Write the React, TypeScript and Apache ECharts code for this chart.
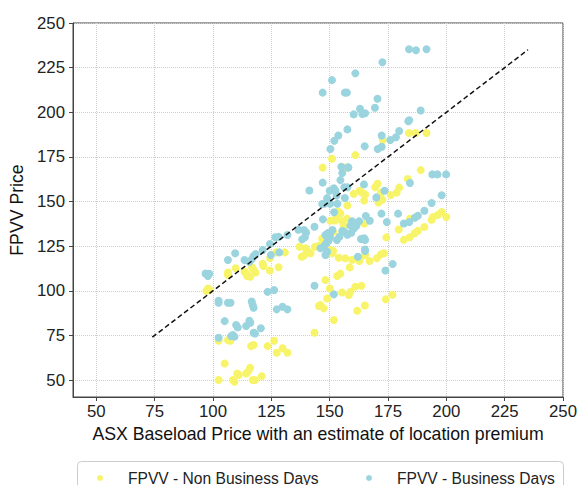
import React, { useEffect, useRef } from "react";
import * as echarts from "echarts";

const xTicks = [50, 75, 100, 125, 150, 175, 200, 225, 250];
const yTicks = [50, 75, 100, 125, 150, 175, 200, 225, 250];
const parityLine = [[74, 74], [235, 235]];

const nonBusinessDays = [
  [172.8, 184.5], [184, 188.4], [186.8, 188.4], [191.5, 188.4], [151, 174], [161, 176], [147, 169], [156, 169], [157, 169], [189, 167.6],
  [183.5, 162.6], [170.5, 160], [169.5, 158], [172, 155], [179.8, 157.8], [178.7, 155], [176.2, 153.6], [162.8, 156], [163.8, 155], [165.2, 154],
  [164.8, 150.6], [160.3, 154.3], [172.6, 151], [170.9, 149.5], [157.6, 147.8], [153.6, 144.4], [154.6, 143.3], [150.3, 139.2], [152.2, 139.4], [155.3, 138.9],
  [157.4, 140.4], [164.8, 137.6], [151.5, 133], [147, 129.2], [174.3, 129.9], [179.6, 134.3], [181.8, 128.5], [184.3, 130], [186.5, 132.2], [187.8, 133.6],
  [190.6, 135.7], [193.7, 139.8], [194.3, 141.3], [196.3, 142.4], [198, 144.1], [200, 141.3], [184.4, 140.3], [152.9, 141.5], [156, 136.5],
  [150.1, 122.8], [151.5, 122.3], [148.9, 120.4], [151.1, 121], [165.2, 120], [163.1, 118.2], [162.7, 116.7], [159.6, 117.3], [156.7, 118.2], [153.9, 118.5],
  [167.1, 116.7], [170.2, 118.2], [171.9, 120.4], [173.3, 121], [158.6, 113.1], [154.6, 109.6], [153.2, 108.3],
  [146.8, 129.3], [147.1, 125.6], [137.1, 124.7], [139.7, 123.8], [140.5, 122.3], [139, 119.7], [138, 119.1], [141.8, 121], [143.7, 124.7], [145.4, 125.2],
  [130.8, 121.5], [127, 121.5], [124.4, 118.3], [128.1, 113.2], [124.4, 111.4], [121.3, 115.1], [117.4, 111.7], [116.7, 113.2], [114.2, 109.8], [113.5, 110.7],
  [109.7, 112.6], [106.4, 110.2], [118.2, 110.2], [106.4, 108.8], [114.6, 108.3], [116, 107.9], [121.6, 113.9], [98.6, 100.4], [97.2, 100], [97.9, 101.3],
  [150.1, 101.3], [148.9, 95.7], [155.3, 99], [158.2, 97.6], [158.9, 99.4], [161, 102.3], [163.6, 102.8], [174, 95.2], [176.9, 97.8], [161.8, 88.8],
  [165.1, 91.8], [151.8, 83.6], [143.5, 76.5], [131.9, 65.3], [146, 92], [147.5, 90.2], [145.4, 91.5], [148.2, 106],
  [102.4, 72], [106.4, 72.4], [107.4, 72], [105, 59.3], [116.3, 69], [117.4, 69.6], [123.4, 69], [126.2, 72], [127.3, 65.3], [129.8, 67.8],
  [102.4, 50], [108.5, 50], [109.2, 49], [110.4, 53.7], [111, 52.8], [114.2, 53.7], [115.2, 55], [115.9, 56.9], [117, 50], [118, 50], [120.9, 52.2],
];

const businessDays = [
  [184, 235.3], [187, 234.7], [191.5, 235.3], [172.6, 228], [161, 221.8], [151, 218], [147, 211], [156.5, 211], [157.4, 211], [170.5, 207.6],
  [169.4, 202.5], [163, 202], [160.3, 198.8], [164, 199], [165.2, 199.4], [189, 201], [183.7, 195], [184.1, 195.5], [157.6, 190.4], [153.7, 187],
  [152, 184], [150.3, 179.4], [172.3, 187], [176, 184.5], [178.4, 186], [179.8, 189.5], [165, 181], [170.6, 179.4], [172.3, 180.7], [158, 169],
  [194, 165.2], [196.2, 165.2], [199.9, 165.2], [155.4, 166], [155, 169.5], [157.9, 169.2], [147, 160.6], [154.6, 162], [184.4, 160.4], [141.3, 156.2],
  [150, 156], [151.8, 157.4], [152.5, 156], [156.3, 158], [157.6, 158], [164.7, 159.6], [173.5, 156], [156.5, 152], [170, 152.3], [152.9, 153.4],
  [148.9, 151.9], [147.7, 148.8], [150.2, 148.8], [153.3, 148.8], [146.8, 148.6], [193.7, 149.2], [198, 153.5], [151.9, 144], [172.2, 143.2], [179.3, 143.2],
  [165.5, 141.9], [167.2, 139.2], [147.1, 140], [159.6, 138.9], [162.6, 138.9], [161.4, 136.3], [160.3, 134.8], [159.3, 132.5], [157.6, 131.4], [156.3, 133.1],
  [155.4, 133.5], [154.2, 130.3], [153.1, 128.4], [143.5, 135.9], [139, 134], [139.9, 132.7], [138.2, 128.8], [136.6, 134.2], [139.4, 130], [131.9, 131.2],
  [150.1, 130.8], [149.5, 128], [181.8, 137.7], [184.1, 138.5], [186.5, 140.9], [187.8, 142], [190.6, 144.8], [174.5, 138.5], [165.1, 123.1], [163.4, 129],
  [164.8, 129.4], [165.2, 128.4], [165.2, 122.3], [162.1, 119.1], [177, 115], [173.9, 111.4], [158.9, 136.5], [151.2, 134], [149.2, 132.3], [148.9, 127.5],
  [150.1, 129.7], [148.2, 131.2], [148.2, 126], [147.5, 124.7], [146.1, 123.8], [148.9, 121.9], [148.2, 120],
  [128.1, 130.2], [126.7, 130], [124.4, 126.2], [128.4, 121.5], [124.8, 120], [121.3, 122.8], [113.5, 117.2], [115.6, 116.3], [116.6, 117.6], [117.4, 119.5],
  [118.3, 120.6], [109.5, 121], [106.4, 117.2], [96.8, 109.7], [97.8, 108.3], [98.4, 109.5],
  [102.4, 94.4], [102.4, 93.3], [106.4, 93.3], [107.5, 93.3], [105, 83], [109.9, 80.8], [110.6, 79.5], [114.2, 80.3], [115.6, 83.2], [116, 82.1],
  [108.5, 75.2], [109.2, 74.3], [107.8, 74.6], [116.6, 94], [117, 92], [117.4, 90.5], [117.4, 76.5], [118, 76.1], [120.5, 79], [102.4, 73.7],
  [123.4, 99.4], [126.2, 100.4], [127.3, 89.6], [129.8, 91.1], [131.9, 89.6], [143.5, 102.8], [151.8, 98],
];

const FONT = "'Liberation Sans', Arial, sans-serif";
const YELLOW = "#f8f46a";
const BLUE = "#9ad4de";

export default function App() {
  const ref = useRef<HTMLDivElement>(null);
  useEffect(() => {
    if (!ref.current) return;
    const chart = echarts.init(ref.current, null, { renderer: "svg" });
    const axisCommon = {
      axisLine: { show: true, lineStyle: { color: "#444", width: 1 } },
      axisTick: { show: true, length: 4, lineStyle: { color: "#444" } },
      splitLine: { show: true, lineStyle: { color: "#cfcfcf", type: [1, 1], width: 1 } },
      nameLocation: "middle",
      nameTextStyle: { fontFamily: FONT, fontSize: 17.7, color: "#111" },
    };
    const legendCommon = {
      top: 470,
      padding: 0,
      itemWidth: 6,
      itemHeight: 6,
      textStyle: { fontFamily: FONT, fontSize: 15.6, color: "#222", padding: [0, 0, 0, 20] },
    };
    chart.setOption({
      animation: false,
      backgroundColor: "#ffffff",
      grid: { left: 73, right: 13, top: 23, bottom: 88, show: true, borderColor: "#444", borderWidth: 1 },
      xAxis: {
        ...axisCommon,
        type: "value",
        min: 40,
        max: 250,
        name: "ASX Baseload Price with an estimate of location premium",
        nameGap: 27,
        axisTick: { ...axisCommon.axisTick, customValues: xTicks },
        axisLabel: { customValues: xTicks, fontFamily: FONT, fontSize: 16.8, color: "#222", margin: 6 },
      },
      yAxis: {
        ...axisCommon,
        type: "value",
        min: 40.5,
        max: 250,
        name: "FPVV Price",
        nameGap: 37,
        axisTick: { ...axisCommon.axisTick, customValues: yTicks },
        axisLabel: { customValues: yTicks, fontFamily: FONT, fontSize: 16.8, color: "#222", margin: 8 },
      },
      legend: [
        { ...legendCommon, data: [{ name: "FPVV - Non Business Days", icon: "circle" }], left: 97 },
        { ...legendCommon, data: [{ name: "FPVV - Business Days", icon: "circle" }], left: 366 },
      ],
      graphic: [
        {
          type: "rect",
          left: 77,
          top: 461,
          z: 100,
          shape: { width: 486, height: 40, r: 4 },
          style: { fill: "transparent", stroke: "#cccccc", lineWidth: 1 },
          silent: true,
        },
      ],
      series: [
        {
          name: "FPVV - Non Business Days",
          type: "scatter",
          data: nonBusinessDays,
          symbolSize: 8,
          itemStyle: { color: YELLOW, opacity: 1 },
        },
        {
          name: "FPVV - Business Days",
          type: "scatter",
          data: businessDays,
          symbolSize: 8,
          itemStyle: { color: BLUE, opacity: 1 },
        },
        {
          name: "parity",
          type: "line",
          data: parityLine,
          symbol: "none",
          lineStyle: { color: "#111", width: 1.5, type: [5, 3] },
          z: 5,
        },
      ],
    });
    return () => chart.dispose();
  }, []);
  return <div ref={ref} style={{ position: "fixed", left: 0, top: 0, width: 580, height: 485 }} />;
}
